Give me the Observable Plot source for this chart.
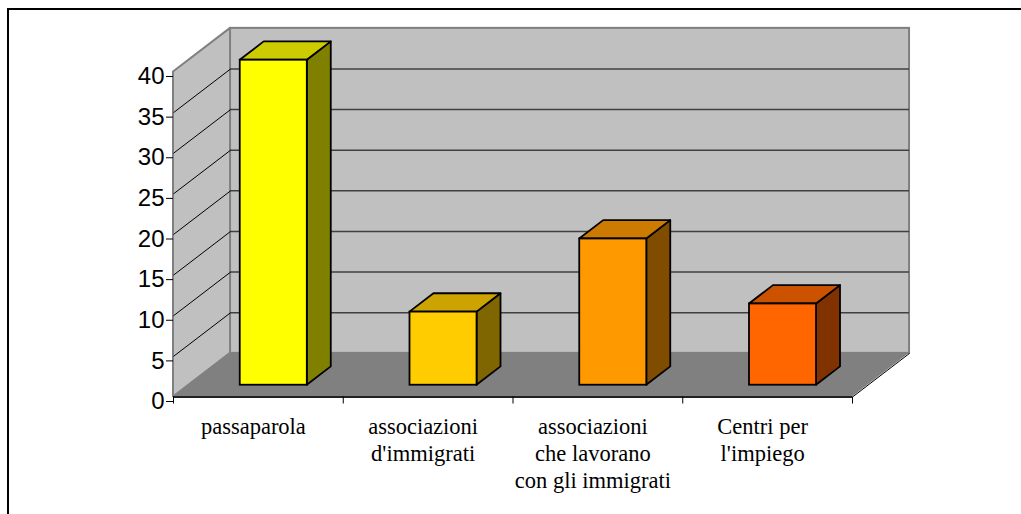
<!DOCTYPE html>
<html><head><meta charset="utf-8">
<script src="https://cdn.jsdelivr.net/npm/d3@7"></script>
<script src="https://cdn.jsdelivr.net/npm/@observablehq/plot@0.6"></script>
<style>
html,body{margin:0;padding:0;background:#fff;}
#wrap{position:relative;width:1021px;height:514px;overflow:hidden;}
#chart svg{display:block;}
#frame{position:absolute;left:7px;top:8px;width:1100px;height:600px;border-top:2px solid #000;border-left:2px solid #000;pointer-events:none;}
</style></head><body>
<div id="wrap"><div id="chart"></div><div id="frame"></div></div>
<script>
// ---- data ----
const categories = ["passaparola", "associazioni\nd'immigrati", "associazioni\nche lavorano\ncon gli immigrati", "Centri per\nl'impiego"];
const values = [40, 9, 18, 10];
const yTicks = [0, 5, 10, 15, 20, 25, 30, 35, 40];
const yMax = 40;

// ---- palette ----
const frontFill = ["#ffff00", "#ffcc00", "#ff9900", "#ff6600"];
const topFill   = ["#cccc00", "#cca300", "#cc7a00", "#cc5200"];
const sideFill  = ["#808000", "#806600", "#804c00", "#803300"];

// ---- 3D depth projection (in scale units) ----
const DX = 0.336, DY = 5.37;
const F0 = 0.27, F1 = 0.69, HALF = 0.1975;
const n = categories.length;

const bars = values.map((v, i) => ({i, v, L: i + 0.5 - HALF, R: i + 0.5 + HALF}));
const front = bars.map(b => ({i: b.i, x1: b.L + F0 * DX, x2: b.R + F0 * DX, y1: F0 * DY, y2: b.v + F0 * DY}));
const tops = bars.flatMap(b => [F0, F1].map(f => ({i: b.i, y: b.v + f * DY, x1: b.L + f * DX, x2: b.R + f * DX})));
const sides = bars.flatMap(b => [F0, F1].map(f => ({i: b.i, x: b.R + f * DX, y1: f * DY, y2: b.v + f * DY})));
const leftWall = [{x: 0, y1: 0, y2: yMax}, {x: DX, y1: DY, y2: yMax + DY}];
const floor = [{y: 0, x1: 0, x2: n}, {y: DY, x1: DX, x2: n + DX}];
const backWall = [{x1: DX, x2: n + DX, y1: DY, y2: yMax + DY}];
const grid = yTicks.filter(t => t > 0 && t < yMax);
const bounds = d3.range(n + 1);

const chart = Plot.plot({
  width: 1021, height: 514,
  marginLeft: 173, marginRight: 169, marginTop: 71.5, marginBottom: 117.5,
  x: {type: "linear", domain: [0, n], axis: null},
  y: {domain: [0, yMax], axis: null},
  style: {background: "#fff", color: "#000", overflow: "visible"},
  marks: [
    Plot.areaX(floor, {y: "y", x1: "x1", x2: "x2", fill: "#808080"}),
    Plot.rect(backWall, {x1: "x1", x2: "x2", y1: "y1", y2: "y2", fill: "#c0c0c0", stroke: "#808080", strokeWidth: 2}),
    Plot.areaY(leftWall, {x: "x", y1: "y1", y2: "y2", fill: "#c0c0c0", stroke: "#808080", strokeWidth: 2}),
    Plot.ruleY(grid, {y: d => d + DY, x1: () => DX, x2: () => n + DX, stroke: "#404040", strokeWidth: 1.5}),
    Plot.link(grid, {x1: () => 0, y1: d => d, x2: () => DX, y2: d => d + DY, stroke: "#000", strokeWidth: 1}),
    Plot.link([0], {x1: () => n, y1: () => 0, x2: () => n + DX, y2: () => DY, stroke: "#000", strokeWidth: 1}),
    Plot.ruleY([0], {x1: () => 0, x2: () => n, stroke: "#222", strokeWidth: 2}),
    Plot.axisY(yTicks, {anchor: "left", tickSize: 7, tickPadding: 2, fontSize: 24, fontFamily: "Liberation Sans, Arial, sans-serif", dy: 4.5, label: null}),
    Plot.axisX(bounds, {anchor: "bottom", tickSize: 7, tickFormat: () => "", label: null}),
    Plot.areaY(sides, {x: "x", y1: "y1", y2: "y2", z: "i", fill: d => sideFill[d.i], stroke: "#000", strokeWidth: 1.8}),
    Plot.areaX(tops, {y: "y", x1: "x1", x2: "x2", z: "i", fill: d => topFill[d.i], stroke: "#000", strokeWidth: 1.8}),
    Plot.rect(front, {x1: "x1", x2: "x2", y1: "y1", y2: "y2", fill: d => frontFill[d.i], stroke: "#000", strokeWidth: 1.8}),
    Plot.text(categories, {x: (d, i) => i + 0.5, y: () => 0, text: d => d, lineAnchor: "top", dy: 18, dx: -5,
      fontSize: 22.5, lineHeight: 1.2, fontFamily: "Liberation Serif, Times New Roman, serif", fill: "#000"})
  ]
});
document.getElementById("chart").appendChild(chart);
</script>
</body></html>
